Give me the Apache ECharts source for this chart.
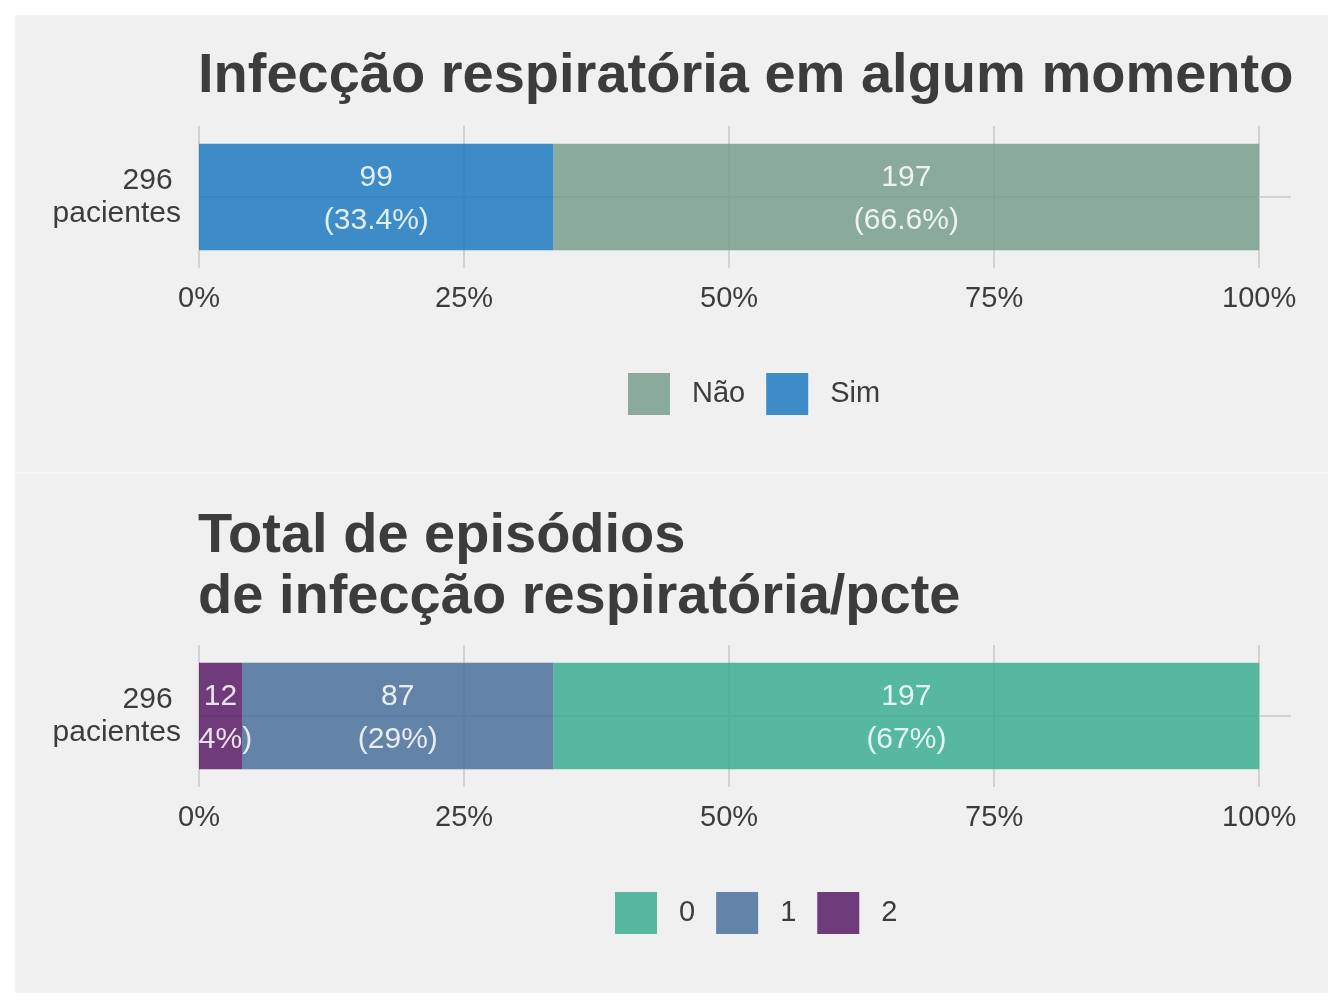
<!DOCTYPE html>
<html><head><meta charset="utf-8">
<script src="https://cdn.jsdelivr.net/npm/echarts@6/dist/echarts.min.js"></script>
<style>html,body{margin:0;padding:0;background:#fff}#c{width:1344px;height:1008px}</style>
</head><body><div id="c"></div>
<script>
const categories = ['296\npacientes'];
const total = 296;
const title1 = 'Infecção respiratória em algum momento';
const title2 = 'Total de episódios\nde infecção respiratória/pcte';
const names1 = ['Sim', 'Não'];
const counts1 = [99, 197];
const colors1 = ['#1d7abf', '#789f8d'];
const legend1 = ['Não', 'Sim'];
const names2 = ['2', '1', '0'];
const counts2 = [12, 87, 197];
const colors2 = ['#581b65', '#4a719b', '#3aae91'];
const legend2 = ['0', '1', '2'];
const xTicks = [0, 25, 50, 75, 100];
const xTickStep = 25;
const xMaxExpanded = 103;

const FONT = "'Liberation Sans', Arial, Helvetica, sans-serif";
const TXT = '#3c3c3c';
const GRID = '#d2d2d2';
const BG = '#f0f0f0';

function pct(c) { return c / total * 100; }

function mkSeries(names, counts, colors, idx, stack, dec) {
  return names.map((n, i) => {
    const p = pct(counts[i]);
    const pTxt = p.toFixed(dec) + '%)';
    const narrow = p < 10;
    const s = {
      name: n, type: 'bar', stack: stack,
      xAxisIndex: idx, yAxisIndex: idx,
      barCategoryGap: '25%',
      z: 2,
      itemStyle: { color: colors[i], opacity: 0.85 },
      label: {
        show: true, position: 'inside', color: '#fff',
        fontFamily: FONT, fontSize: 30, lineHeight: 43,
        padding: [4, 0, 0, 0],
        formatter: () => narrow
          ? '{n|' + counts[i] + '}\n{h|(}{n|' + pTxt + '}'
          : counts[i] + '\n(' + pTxt,
        rich: {
          n: { color: '#fff', fontFamily: FONT, fontSize: 30, lineHeight: 43 },
          h: { color: BG, fontFamily: FONT, fontSize: 30, lineHeight: 43 }
        }
      },
      emphasis: { disabled: true },
      data: categories.map(() => p)
    };
    if (i === 0) {
      s.markLine = {
        silent: true, symbol: 'none', z: 1,
        label: { show: false },
        lineStyle: { color: GRID, width: 2, type: 'solid' },
        emphasis: { disabled: true },
        data: [{ yAxis: categories[0] }]
      };
    }
    return s;
  });
}

function xAx(idx) {
  return {
    type: 'value', gridIndex: idx, min: 0, max: xMaxExpanded, interval: xTickStep,
    axisLine: { show: false }, axisTick: { show: false },
    axisLabel: { color: TXT, fontFamily: FONT, fontSize: 29, lineHeight: 30, margin: 16,
      showMaxLabel: true,
      formatter: v => xTicks.indexOf(v) >= 0 ? v + '%' : '' },
    splitLine: { show: true, lineStyle: { color: xTicks.map(() => GRID).concat(['rgba(0,0,0,0)']), width: 2 } }
  };
}
function yAx(idx) {
  return {
    type: 'category', gridIndex: idx, data: categories,
    axisLine: { show: false }, axisTick: { show: false },
    axisLabel: { color: TXT, fontFamily: FONT, fontSize: 30, lineHeight: 33, margin: 18,
      padding: [6, 0, 0, 0],
      formatter: v => v.replace('\n', ' \n') },
    splitLine: { show: false }
  };
}
function legendOf(data, left, top) {
  return {
    data: data, left: left, top: top, orient: 'horizontal', padding: 0,
    itemWidth: 42, itemHeight: 42, itemGap: 21, icon: 'rect',
    selectedMode: false,
    textStyle: { color: TXT, fontFamily: FONT, fontSize: 29, padding: [4, 0, 0, 17] }
  };
}

const chart = echarts.init(document.getElementById('c'), null, { renderer: 'canvas' });
chart.setOption({
  backgroundColor: '#ffffff',
  animation: false,
  graphic: [
    { type: 'rect', z: -10, silent: true, shape: { x: 15, y: 15, width: 1313, height: 978 }, style: { fill: BG } },
    { type: 'line', z: -9, silent: true, shape: { x1: 15, y1: 473, x2: 1328, y2: 473 }, style: { stroke: '#f5f5f5', lineWidth: 2 } }
  ],
  title: [
    { text: title1, left: 198, top: 47, padding: 0,
      textStyle: { color: TXT, fontFamily: FONT, fontWeight: 'bold', fontSize: 56, lineHeight: 60 } },
    { text: title2, left: 198, top: 506, padding: 0,
      textStyle: { color: TXT, fontFamily: FONT, fontWeight: 'bold', fontSize: 56, lineHeight: 61 } }
  ],
  legend: [legendOf(legend1, 628, 373), legendOf(legend2, 615, 892)],
  grid: [
    { left: 199, top: 126, width: 1092, height: 142 },
    { left: 199, top: 645, width: 1092, height: 142 }
  ],
  xAxis: [xAx(0), xAx(1)],
  yAxis: [yAx(0), yAx(1)],
  series: [].concat(mkSeries(names1, counts1, colors1, 0, 'a', 1), mkSeries(names2, counts2, colors2, 1, 'b', 0))
});
</script></body></html>
